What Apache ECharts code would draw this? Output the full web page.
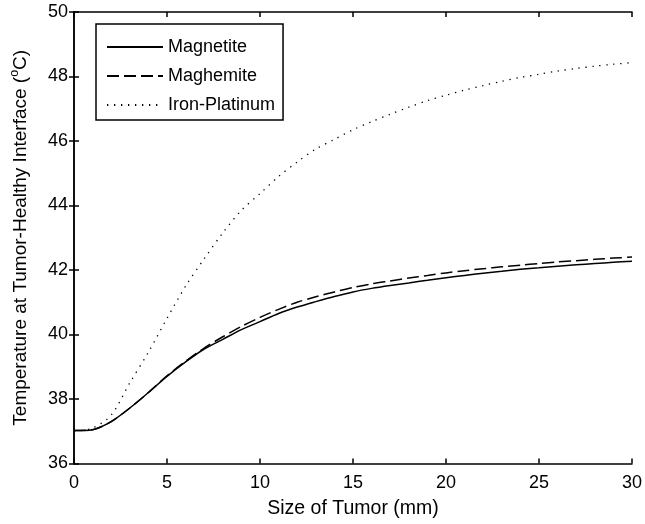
<!DOCTYPE html>
<html>
<head>
<meta charset="utf-8">
<script src="https://cdn.jsdelivr.net/npm/echarts@6/dist/echarts.min.js"></script>
<style>
html,body{margin:0;padding:0;background:#fff;}
#c{width:645px;height:524px;}
</style>
</head>
<body>
<div id="c"></div>
<script>
var sizes = [0,1,2,3,4,5,6,7,8,9,10,11,12,13,14,15,16,17,18,19,20,21,22,23,24,25,26,27,28,29,30];
var magnetite = [37.02,37.05,37.3,37.72,38.2,38.7,39.15,39.55,39.85,40.15,40.4,40.65,40.85,41.02,41.18,41.32,41.43,41.52,41.6,41.68,41.76,41.83,41.9,41.96,42.02,42.07,42.12,42.16,42.2,42.24,42.27];
var maghemite = [37.02,37.05,37.3,37.72,38.2,38.72,39.17,39.58,39.93,40.25,40.53,40.78,41.0,41.17,41.32,41.46,41.57,41.66,41.75,41.83,41.91,41.98,42.04,42.1,42.15,42.2,42.25,42.29,42.33,42.37,42.4];
var ironPlatinum = [37.0,37.1,37.5,38.5,39.45,40.5,41.5,42.35,43.15,43.85,44.37,44.9,45.35,45.75,46.05,46.35,46.6,46.83,47.05,47.25,47.42,47.58,47.72,47.85,47.97,48.07,48.17,48.25,48.32,48.38,48.43];
var seriesNames = ['Magnetite','Maghemite','Iron-Platinum'];
var xTicks = [0,5,10,15,20,25,30];
var yTicks = [36,38,40,42,44,46,48,50];

function pairs(v){ return sizes.map(function(x,i){ return [x, v[i]]; }); }

var font = 'Liberation Sans, Arial, Helvetica, sans-serif';
var chart = echarts.init(document.getElementById('c'), null, {renderer:'canvas'});
var axisLine = {show:true, lineStyle:{color:'#000', width:1.5}};
var tick = {show:true, inside:true, length:5, lineStyle:{color:'#000', width:1.5}};
chart.setOption({
  backgroundColor:'#fff',
  animation:false,
  grid:{left:65, right:7.5, top:12, bottom:60.5, containLabel:false},
  legend:{
    show:true, orient:'vertical', left:96, top:24,
    padding:[14,8,6,10], itemGap:11, itemWidth:56, itemHeight:14,
    borderColor:'#000', borderWidth:1.5, backgroundColor:'#fff',
    itemStyle:{color:'rgba(0,0,0,0)', borderColor:'rgba(0,0,0,0)', borderWidth:0},
    textStyle:{fontFamily:font, fontSize:18, color:'#000', lineHeight:18},
    data:seriesNames
  },
  xAxis:[{
    type:'value', min:0, max:30, interval:5,
    axisLine:axisLine, axisTick:tick, splitLine:{show:false},
    axisLabel:{fontFamily:font, fontSize:18, color:'#000', margin:11},
    name:'Size of Tumor (mm)', nameLocation:'middle', nameGap:35,
    nameTextStyle:{fontFamily:font, fontSize:19.5, color:'#000'}
  },{
    type:'value', min:0, max:30, interval:5, position:'top',
    axisLine:axisLine, axisTick:tick, axisLabel:{show:false}, splitLine:{show:false}
  }],
  yAxis:[{
    type:'value', min:36, max:50, interval:2,
    axisLine:axisLine, axisTick:tick, splitLine:{show:false},
    axisLabel:{fontFamily:font, fontSize:18, color:'#000', margin:6},
    name:'{n|Temperature at Tumor-Healthy Interface (}{s|o}{n|C)}', nameLocation:'middle', nameGap:44,
    nameTextStyle:{fontFamily:font, color:'#000',
      rich:{n:{fontFamily:font, fontSize:19, color:'#000', lineHeight:22, verticalAlign:'bottom'},
            s:{fontFamily:font, fontSize:12.5, color:'#000', lineHeight:22, verticalAlign:'top'}}}
  },{
    type:'value', min:36, max:50, interval:2, position:'right',
    axisLine:axisLine, axisTick:tick, axisLabel:{show:false}, splitLine:{show:false}
  }],
  series:[
    {name:seriesNames[0], type:'line', data:pairs(magnetite), smooth:0.3, symbol:'none',
     lineStyle:{color:'#000', width:1.5, type:'solid'}, itemStyle:{color:'#000'}},
    {name:seriesNames[1], type:'line', data:pairs(maghemite), smooth:0.3, symbol:'none',
     lineStyle:{color:'#000', width:1.5, type:[12,5]}, itemStyle:{color:'#000'}},
    {name:seriesNames[2], type:'line', data:pairs(ironPlatinum), smooth:0.3, symbol:'none',
     lineStyle:{color:'#000', width:1.3, type:[1.3,5.7]}, itemStyle:{color:'#000'}}
  ]
});
</script>
</body>
</html>
